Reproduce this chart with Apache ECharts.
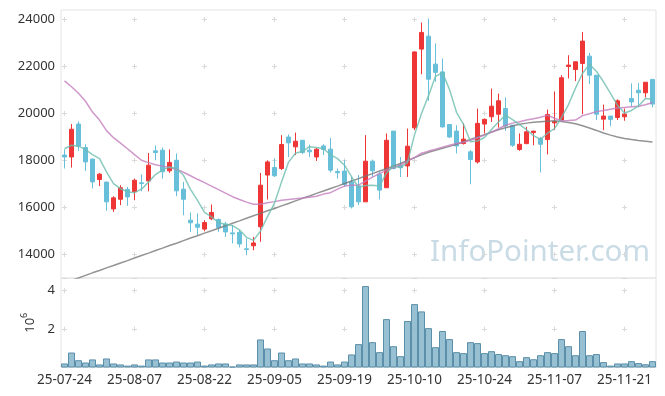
<!DOCTYPE html>
<html><head><meta charset="utf-8">
<script src="https://cdn.jsdelivr.net/npm/echarts@6/dist/echarts.min.js"></script>
<style>html,body{margin:0;padding:0;background:#fff}#c{width:665px;height:396px}</style>
</head><body><div id="c"></div>
<script>
const dates = [
  '25-07-24','25-07-25','25-07-28','25-07-29','25-07-30','25-07-31',
  '25-08-01','25-08-04','25-08-05','25-08-06','25-08-07','25-08-08','25-08-11','25-08-12','25-08-13','25-08-14',
  '25-08-18','25-08-19','25-08-20','25-08-21','25-08-22','25-08-25','25-08-26','25-08-27','25-08-28','25-08-29',
  '25-09-01','25-09-02','25-09-03','25-09-04','25-09-05','25-09-08','25-09-09','25-09-10','25-09-11','25-09-12',
  '25-09-15','25-09-16','25-09-17','25-09-18','25-09-19','25-09-22','25-09-23','25-09-24','25-09-25','25-09-26',
  '25-09-29','25-09-30','25-10-01','25-10-02','25-10-10','25-10-13','25-10-14','25-10-15','25-10-16','25-10-17',
  '25-10-20','25-10-21','25-10-22','25-10-23','25-10-24','25-10-27','25-10-28','25-10-29','25-10-30','25-10-31',
  '25-11-03','25-11-04','25-11-05','25-11-06','25-11-07','25-11-10','25-11-11','25-11-12','25-11-13','25-11-14',
  '25-11-17','25-11-18','25-11-19','25-11-20','25-11-21','25-11-24','25-11-25','25-11-26','25-11-27'
];
const opens = [18230,18150,19550,18550,18060,17190,17080,15940,16350,16770,16670,17050,17130,18410,18440,17560,18010,16780,15460,15290,
  15080,15520,15490,15300,14920,14940,14240,14370,15180,17380,17700,17660,19000,18580,18860,18440,18150,18620,18480,17530,
  17550,17090,16920,16240,17970,17420,16840,19250,17800,17770,19390,22740,23290,22100,21770,19530,19250,18720,18370,17940,
  19550,19860,19970,20210,19500,18470,18720,19190,18940,18890,19600,19720,22000,21870,22130,22440,21630,19760,19890,19830,
  19860,20640,20990,20880,21450];
const closes = [18150,19330,18610,17940,17090,17420,16240,16410,16840,16450,17160,17020,17800,18340,17520,17920,16710,16350,15350,15160,
  15360,15790,15150,14960,14880,14450,14210,14490,16950,17940,17350,18680,18750,18820,18340,18370,18480,18470,17590,17480,
  16980,16030,16240,17970,17560,16740,18860,17660,17690,18610,22620,23450,21460,21750,19430,19000,18620,18910,18040,19580,
  19750,20310,20540,19470,18650,18690,19220,19250,18690,19960,19660,21520,22060,22200,23080,21630,19970,19890,19750,20540,
  19970,20490,20880,21330,20400];
const lows = [17660,17700,18410,17560,16810,16910,15860,15810,16100,16070,16310,16690,16690,18010,17230,17470,16480,15670,14960,14820,
  14990,15460,14960,14750,14470,14300,13970,14180,14540,16340,17300,17590,18150,18230,18270,18150,17980,18230,17490,17230,
  16880,15960,16100,16240,17300,16340,16830,17620,17300,17300,19290,21670,20540,21350,19400,18960,18300,18680,16990,17870,
  19150,19640,19400,19260,18580,18410,18690,18650,17490,18260,19290,19690,21490,21380,19970,21250,19720,19290,19460,19720,
  19690,20280,20260,20680,20260];
const highs = [18470,19550,19670,18690,18080,17470,17100,16480,16950,16880,17230,17410,18320,18640,18550,18470,18300,17090,15790,15750,
  15460,16130,15530,15390,15250,15040,14680,14750,17470,18010,18090,19080,19110,19190,18860,18680,18540,18690,18960,17660,
  18010,17300,17380,19080,18040,17520,19150,19250,18150,19360,22640,23870,24040,22980,22340,19540,19500,19580,18440,20210,
  19790,21060,20850,20680,19500,19150,19430,19260,19000,20170,20940,21630,22480,22200,23470,22580,21630,20380,19890,20600,
  20210,21280,21300,21340,21450];
// volume in millions of shares
const volumes = [0.21,0.78,0.38,0.26,0.42,0.16,0.47,0.21,0.16,0.10,0.16,0.10,0.42,0.42,0.26,0.26,0.31,0.26,0.26,0.31,
  0.10,0.16,0.21,0.21,0.05,0.16,0.16,0.16,1.46,0.99,0.38,0.78,0.38,0.47,0.21,0.21,0.16,0.10,0.31,0.16,
  0.31,0.68,1.22,4.24,1.32,0.80,2.52,1.11,0.59,2.42,3.30,2.92,2.05,1.06,1.90,1.48,0.80,0.75,1.32,1.27,
  0.75,0.85,0.70,0.64,0.59,0.33,0.54,0.43,0.64,0.80,0.75,1.48,1.11,0.64,1.90,0.64,0.70,0.28,0.10,0.21,
  0.21,0.33,0.23,0.17,0.33];
const ma5 = [18500,18650,18610,18460,18250,18080,17520,17020,16800,16670,16630,16780,17080,17400,17600,17720,17660,17370,16770,16300,
  15790,15600,15360,15280,15230,15050,14730,14600,15000,15610,16190,17080,17930,18310,18390,18590,18550,18500,18250,18080,
  17800,17310,16860,16940,16950,16910,17470,17760,17700,17910,19090,20000,20760,21580,21740,21020,20050,19540,18800,18830,
  18980,19320,19640,19930,19740,19530,19310,19060,18900,19160,19360,19820,20380,21080,21700,22100,21790,21350,20860,20350,
  20020,20130,20320,20640,20610];
const ma20 = [21390,21140,20860,20520,20060,19720,19270,18970,18740,18500,18250,18010,17910,17820,17760,17700,17630,17500,17350,17200,
  17060,16910,16760,16610,16460,16340,16230,16140,16140,16200,16250,16310,16340,16370,16400,16440,16480,16570,16630,16780,
  16910,16950,16950,17120,17290,17440,17590,17690,17800,17970,18120,18310,18400,18480,18570,18650,18720,18780,18860,18970,
  19080,19200,19350,19500,19590,19650,19720,19780,19840,19930,19800,19690,19700,19720,19910,19990,20080,20130,20180,20230,
  20260,20290,20310,20370,20470];
const ma60 = [12790,12900,13000,13110,13220,13320,13430,13530,13640,13740,13850,13960,14060,14170,14270,14380,14480,14590,14700,14800,
  14910,15010,15120,15220,15330,15430,15540,15650,15750,15860,15960,16070,16170,16280,16390,16490,16600,16700,16810,16910,
  17020,17130,17230,17340,17440,17550,17650,17760,17870,18000,18120,18240,18350,18430,18520,18600,18690,18800,18900,19000,
  19100,19210,19310,19390,19470,19540,19590,19630,19650,19670,19690,19660,19620,19560,19480,19380,19280,19170,19080,19000,
  18940,18890,18850,18820,18790];
const priceTicks = [14000,16000,18000,20000,22000,24000];
const volumeTicks = [2,4];
const watermark = 'InfoPointer.com';

const FONT = 'Noto Sans';
const GRID_C = '#dadada';
const candles = dates.map((d, i) => [opens[i], closes[i], lows[i], highs[i]]);

const chart = echarts.init(document.getElementById('c'), null, {renderer: 'canvas'});
chart.setOption({
  animation: false,
  backgroundColor: '#ffffff',
  grid: [
    {left: 61, right: 9, top: 10, height: 268, show: true, borderColor: '#e4e4e4', borderWidth: 1, backgroundColor: 'transparent'},
    {left: 61, right: 9, top: 278, height: 89.5, show: true, borderColor: '#e4e4e4', borderWidth: 1, backgroundColor: 'transparent'}
  ],
  xAxis: [
    {type: 'category', gridIndex: 0, data: dates, boundaryGap: true,
     axisLine: {show: false}, axisTick: {show: false}, axisLabel: {show: false},
     splitLine: {show: true, interval: 9, alignWithLabel: true,
       lineStyle: {color: GRID_C, width: 1, type: [5, 42], dashOffset: 40}}},
    {type: 'category', gridIndex: 1, data: dates, boundaryGap: true,
     axisLine: {show: false}, axisTick: {show: false},
     axisLabel: {interval: 9, color: '#333', fontFamily: FONT, fontSize: 13.5, margin: 6},
     splitLine: {show: true, interval: 9, alignWithLabel: true,
       lineStyle: {color: GRID_C, width: 1, type: [5, 33.4], dashOffset: 28.2}}}
  ],
  yAxis: [
    {type: 'value', gridIndex: 0, min: 13000, max: 24404, interval: 1000, scale: true,
     axisLine: {show: false}, axisTick: {show: false},
     axisLabel: {color: '#333', fontFamily: FONT, fontSize: 13, margin: 6,
       formatter: v => priceTicks.includes(v) ? String(v) : ''},
     splitLine: {show: true, lineStyle: {color: ['rgba(0,0,0,0)', GRID_C], width: 1, type: [5, 65], dashOffset: 69}}},
    {type: 'value', gridIndex: 1, min: 0, max: 4.66, interval: 2,
     axisLine: {show: false}, axisTick: {show: false},
     axisLabel: {color: '#333', fontFamily: FONT, fontSize: 13, margin: 6,
       formatter: v => volumeTicks.includes(v) ? String(v) : ''},
     name: '{b|10}{s|6}', nameLocation: 'middle', nameRotate: 90, nameGap: 18,
     nameTextStyle: {color: '#333', fontFamily: FONT,
       rich: {b: {fontSize: 13, fontFamily: FONT, color: '#333', verticalAlign: 'bottom'},
              s: {fontSize: 9, fontFamily: FONT, color: '#333', verticalAlign: 'top', padding: [0, 0, 8, 0]}}},
     splitLine: {show: true, lineStyle: {color: GRID_C, width: 1, type: [5, 65], dashOffset: 69}}}
  ],
  graphic: [
    {type: 'text', left: 430, top: 238, z: -1, silent: true,
     style: {text: watermark, fill: '#c9dbe5', font: '29.5px "Noto Sans"'}}
  ],
  series: [
    {type: 'candlestick', xAxisIndex: 0, yAxisIndex: 0, data: candles, barWidth: 4.6,
     itemStyle: {color: '#ee3636', color0: '#67bfd9', borderColor: '#ee3636', borderColor0: '#67bfd9', borderWidth: 1}, z: 2},
    {type: 'line', xAxisIndex: 0, yAxisIndex: 0, data: ma60, showSymbol: false, z: 3,
     lineStyle: {color: 'rgba(120,120,120,0.8)', width: 1.5}},
    {type: 'line', xAxisIndex: 0, yAxisIndex: 0, data: ma20, showSymbol: false, z: 3,
     lineStyle: {color: 'rgba(195,125,190,0.8)', width: 1.5}},
    {type: 'line', xAxisIndex: 0, yAxisIndex: 0, data: ma5, showSymbol: false, z: 3,
     lineStyle: {color: 'rgba(110,190,175,0.8)', width: 1.5}},
    {type: 'bar', xAxisIndex: 1, yAxisIndex: 1, data: volumes, barWidth: '100%', barCategoryGap: '0%',
     itemStyle: {color: 'rgba(140,185,205,0.9)', borderColor: '#5b8faa', borderWidth: 1}}
  ]
});
</script>
</body></html>
